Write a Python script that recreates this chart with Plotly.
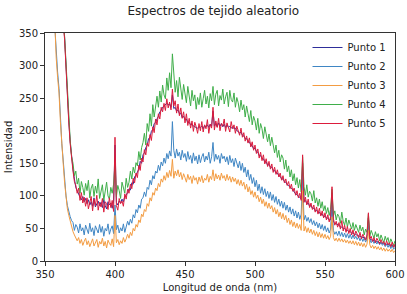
import plotly.graph_objects as go

wavelength = list(range(350, 601))

punto_1 = [
    1390, 1240, 1095, 955, 845, 755, 675, 615, 555, 505,
    466, 431, 398, 369, 343, 296, 253, 215, 183, 158,
    141, 126, 113, 108, 102, 98, 94, 99, 91, 96,
    88, 94, 86, 91, 84, 97, 83, 89, 92, 85,
    90, 82, 94, 85, 80, 91, 86, 89, 81, 92,
    178, 90, 86, 92, 89, 95, 91, 99, 101, 105,
    111, 109, 120, 118, 129, 132, 138, 141, 153, 150,
    163, 166, 174, 178, 188, 190, 199, 202, 211, 213,
    218, 222, 229, 231, 236, 238, 240, 242, 240, 241,
    236, 255, 234, 236, 230, 232, 226, 227, 220, 222,
    217, 218, 212, 213, 209, 210, 207, 206, 205, 204,
    206, 205, 207, 203, 208, 206, 209, 205, 210, 207,
    230, 207, 211, 206, 212, 207, 211, 206, 210, 205,
    209, 205, 207, 204, 206, 203, 204, 200, 199, 196,
    198, 193, 192, 188, 188, 183, 183, 178, 177, 172,
    173, 168, 167, 162, 162, 157, 157, 152, 152, 147,
    148, 144, 144, 139, 139, 135, 135, 131, 130, 126,
    126, 122, 121, 117, 116, 113, 112, 108, 106, 103,
    102, 99, 98, 95, 150, 92, 93, 88, 89, 84,
    85, 81, 81, 77, 78, 74, 75, 71, 72, 68,
    69, 66, 66, 63, 63, 105, 60, 58, 57, 55,
    55, 52, 52, 50, 50, 47, 47, 45, 45, 43,
    43, 41, 41, 39, 39, 38, 37, 36, 36, 35,
    35, 66, 33, 33, 32, 31, 31, 30, 29, 28,
    28, 27, 27, 26, 26, 25, 25, 24, 24, 23,
    23,
]

punto_2 = [
    1200, 1020, 850, 720, 620, 520, 430, 360, 320, 290,
    265, 220, 180, 155, 125, 100, 85, 75, 68, 62,
    59, 47, 56, 52, 43, 57, 46, 51, 40, 55,
    49, 42, 58, 45, 51, 39, 54, 47, 43, 56,
    44, 53, 38, 50, 46, 57, 41, 49, 54, 42,
    86, 48, 55, 43, 51, 46, 57, 44, 52, 61,
    55, 64, 58, 71, 66, 79, 74, 86, 81, 95,
    97, 106, 99, 113, 110, 124, 117, 131, 126, 138,
    135, 147, 139, 152, 146, 158, 150, 165, 157, 169,
    161, 214, 170, 158, 172, 161, 167, 155, 170, 159,
    165, 153, 168, 156, 162, 150, 166, 154, 161, 149,
    163, 151, 160, 165, 152, 161, 155, 167, 150, 160,
    182, 153, 164, 156, 162, 150, 165, 157, 161, 152,
    160, 148, 162, 151, 157, 145, 158, 149, 143, 153,
    139, 150, 136, 144, 129, 140, 124, 133, 119, 128,
    114, 124, 108, 118, 104, 114, 102, 111, 99, 107,
    96, 106, 93, 102, 90, 99, 87, 95, 84, 92,
    81, 90, 78, 86, 75, 83, 72, 80, 69, 77,
    66, 75, 64, 72, 128, 63, 70, 61, 67, 59,
    65, 56, 62, 54, 60, 51, 58, 49, 56, 47,
    54, 45, 51, 43, 49, 88, 47, 41, 45, 39,
    46, 38, 44, 37, 43, 36, 42, 35, 41, 34,
    40, 34, 38, 33, 37, 31, 36, 30, 35, 29,
    34, 58, 33, 28, 32, 27, 31, 26, 30, 25,
    29, 24, 27, 22, 26, 21, 25, 19, 24, 18,
    21,
]

punto_3 = [
    1180, 1000, 830, 700, 600, 505, 420, 352, 312, 282,
    258, 214, 175, 150, 120, 95, 80, 70, 60, 52,
    45, 40, 35, 31, 36, 27, 33, 24, 30, 35,
    25, 31, 22, 29, 34, 23, 27, 33, 21, 30,
    26, 35, 23, 30, 20, 32, 27, 24, 34, 22,
    70, 28, 33, 25, 31, 27, 36, 29, 34, 41,
    35, 44, 39, 50, 46, 56, 52, 63, 59, 72,
    68, 79, 76, 88, 84, 97, 92, 105, 101, 112,
    108, 119, 114, 126, 121, 131, 124, 136, 128, 139,
    130, 156, 127, 138, 131, 140, 129, 136, 125, 134,
    128, 121, 133, 125, 130, 119, 131, 124, 128, 118,
    129, 122, 131, 120, 127, 124, 133, 121, 130, 125,
    140, 123, 134, 126, 132, 124, 135, 127, 131, 123,
    133, 124, 130, 121, 129, 122, 127, 118, 125, 116,
    124, 115, 121, 110, 118, 106, 114, 102, 108, 98,
    106, 96, 101, 91, 98, 88, 95, 84, 91, 81,
    89, 80, 85, 75, 82, 72, 79, 68, 75, 65,
    73, 63, 70, 59, 66, 56, 63, 53, 60, 51,
    58, 50, 56, 47, 108, 46, 53, 44, 51, 43,
    49, 41, 47, 39, 45, 37, 44, 36, 42, 35,
    41, 34, 39, 33, 38, 68, 36, 31, 35, 30,
    35, 30, 34, 29, 33, 28, 32, 27, 31, 26,
    31, 25, 30, 24, 29, 23, 28, 22, 27, 21,
    26, 47, 25, 20, 24, 19, 23, 18, 22, 17,
    21, 16, 20, 15, 19, 15, 18, 14, 18, 13,
    16,
]

punto_4 = [
    1400, 1250, 1100, 960, 850, 760, 680, 620, 560, 510,
    470, 435, 400, 372, 345, 300, 255, 218, 186, 160,
    150, 131, 138, 118, 127, 104, 122, 113, 101, 119,
    108, 124, 97, 112, 118, 99, 115, 104, 126, 96,
    110, 117, 93, 106, 121, 100, 95, 113, 104, 118,
    150, 99, 116, 108, 96, 121, 110, 104, 127, 113,
    121, 138, 126, 144, 135, 151, 146, 168, 155, 174,
    182, 196, 178, 211, 199, 226, 207, 240, 221, 236,
    253, 236, 261, 244, 270, 255, 249, 281, 262, 289,
    266, 318, 285, 259, 277, 252, 282, 264, 248, 271,
    259, 243, 268, 250, 238, 262, 246, 255, 233, 251,
    240, 258, 236, 249, 262, 241, 253, 235, 257, 246,
    268, 240, 256, 262, 238, 254, 247, 264, 241, 252,
    259, 237, 262, 248, 244, 258, 236, 251, 243, 229,
    247, 232, 240, 221, 238, 226, 214, 231, 209, 222,
    215, 201, 219, 196, 211, 203, 188, 206, 192, 183,
    195, 177, 190, 180, 166, 178, 159, 170, 152, 163,
    158, 141, 155, 137, 146, 129, 140, 123, 134, 117,
    128, 112, 125, 106, 160, 114, 101, 117, 98, 107,
    103, 92, 108, 89, 97, 84, 95, 81, 91, 77,
    85, 73, 82, 70, 79, 110, 69, 77, 63, 72,
    68, 58, 75, 61, 55, 66, 52, 63, 57, 49,
    59, 47, 56, 51, 44, 55, 46, 52, 40, 49,
    44, 72, 38, 47, 41, 35, 45, 37, 42, 31,
    40, 33, 28, 38, 31, 36, 26, 34, 29, 24,
    31,
]

punto_5 = [
    1380, 1230, 1090, 950, 840, 750, 670, 610, 550, 500,
    462, 428, 395, 366, 340, 292, 250, 212, 180, 155,
    138, 122, 116, 104, 112, 93, 105, 89, 98, 84,
    97, 80, 92, 99, 77, 95, 85, 101, 78, 90,
    83, 96, 75, 91, 88, 79, 97, 82, 93, 76,
    190, 85, 78, 96, 88, 92, 84, 103, 95, 110,
    104, 118, 111, 127, 120, 135, 128, 147, 139, 158,
    152, 171, 163, 181, 176, 194, 185, 206, 197, 218,
    209, 226, 218, 236, 229, 242, 231, 249, 235, 244,
    232, 264, 238, 246, 227, 241, 223, 235, 219, 229,
    212, 226, 208, 219, 204, 215, 199, 213, 206, 196,
    211, 200, 214, 198, 209, 203, 217, 196, 210, 204,
    236, 201, 215, 205, 219, 200, 211, 207, 218, 199,
    212, 204, 198, 214, 203, 209, 196, 207, 201, 193,
    204, 190, 197, 184, 192, 181, 189, 175, 183, 170,
    178, 165, 172, 158, 167, 154, 163, 149, 157, 145,
    153, 141, 149, 136, 144, 133, 140, 129, 135, 124,
    131, 120, 126, 116, 122, 111, 118, 107, 112, 101,
    108, 97, 104, 93, 163, 90, 98, 86, 95, 82,
    89, 79, 86, 75, 83, 72, 81, 69, 77, 66,
    74, 63, 71, 60, 68, 114, 65, 55, 61, 52,
    59, 49, 62, 46, 55, 44, 53, 42, 50, 40,
    48, 38, 46, 42, 36, 44, 34, 41, 37, 32,
    40, 74, 34, 38, 30, 36, 28, 35, 31, 26,
    33, 27, 30, 24, 31, 25, 28, 22, 29, 21,
    26,
]

series_names = ["Punto 1", "Punto 2", "Punto 3", "Punto 4", "Punto 5"]
series_values = [punto_1, punto_2, punto_3, punto_4, punto_5]
series_colors = ["#2e2e9a", "#3f86c4", "#f39c42", "#3fae4a", "#dc1c3c"]

fig = go.Figure()
for name, vals, col in zip(series_names, series_values, series_colors):
    fig.add_trace(go.Scatter(x=wavelength, y=vals, mode="lines", name=name,
                             line=dict(color=col, width=1)))

font_family = "DejaVu Sans"
axis_common = dict(showline=True, linecolor="#333333", linewidth=1, mirror=True,
                   ticks="outside", ticklen=4, tickcolor="#333333",
                   showgrid=False, zeroline=False, automargin=False,
                   tickfont=dict(family=font_family, size=10, color="#222222"))

fig.update_layout(
    width=407, height=294,
    margin=dict(l=45, r=12, t=33, b=33),
    paper_bgcolor="white", plot_bgcolor="white",
    font=dict(family=font_family, size=10, color="#222222"),
    title=dict(text="Espectros de tejido aleatorio", x=0.524, xref="container",
               y=0.978, yref="container", yanchor="top", xanchor="center",
               automargin=False,
               font=dict(family=font_family, size=12, color="#222222")),
    xaxis=dict(range=[350, 600], tickvals=[350, 400, 450, 500, 550, 600],
               title=dict(text="Longitud de onda (nm)", standoff=4,
                          font=dict(family=font_family, size=10)),
               **axis_common),
    yaxis=dict(range=[0, 350], tickvals=[0, 50, 100, 150, 200, 250, 300, 350],
               title=dict(text="Intensidad", standoff=4,
                          font=dict(family=font_family, size=10)),
               **axis_common),
    legend=dict(x=0.99, y=1.0, xanchor="right", yanchor="top",
                bgcolor="rgba(255,255,255,0.8)", borderwidth=0,
                font=dict(family=font_family, size=10, color="#222222"),
                tracegroupgap=0, itemwidth=30),
    showlegend=True,
)

fig.write_html("out.html",
               config={"displayModeBar": False},
               post_script="document.body.style.margin='0px';document.body.style.padding='0px';")
